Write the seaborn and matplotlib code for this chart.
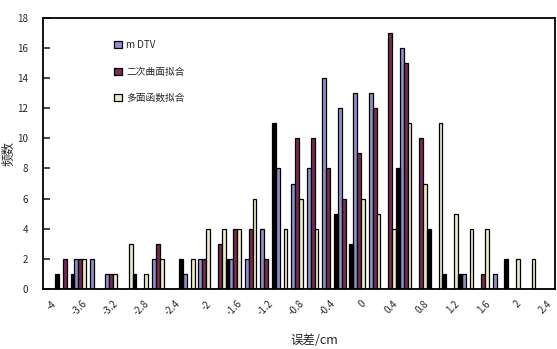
import numpy as np
import pandas as pd
import matplotlib
matplotlib.use("Agg")
import matplotlib.pyplot as plt
import seaborn as sns

# error classes (bin centres) and counts for each method
bins = [round(-4.0 + 0.2 * i, 1) for i in range(33)]
counts_dtv = [0, 0, 2, 2, 1, 0, 0, 2, 0, 1, 2, 0, 2, 2, 4, 8, 7, 8, 14, 12,
              13, 13, 0, 16, 0, 0, 0, 1, 0, 1, 0, 0, 0]
counts_fit = [0, 2, 2, 0, 1, 0, 0, 3, 0, 0, 2, 3, 4, 4, 2, 0, 10, 10, 8, 6,
              9, 12, 17, 15, 10, 0, 0, 0, 1, 0, 0, 0, 0]
counts_surf = [0, 0, 2, 0, 1, 3, 1, 2, 0, 2, 4, 4, 4, 6, 0, 4, 6, 4, 0, 0,
               6, 5, 4, 11, 7, 11, 5, 4, 4, 0, 2, 2, 0]
counts_meas = [1, 1, 0, 0, 0, 1, 0, 0, 2, 0, 0, 2, 0, 0, 11, 0, 0, 0, 5, 3,
               0, 0, 8, 0, 4, 1, 1, 0, 0, 2, 0, 0, 0]
series_names = ["m DTV", "二次曲面拟合", "多面函数拟合", "实测"]
series_colors = ["#8585d6", "#861d50", "#f3f0bd", "#000000"]
tick_labels = ["-4", "-3.6", "-3.2", "-2.8", "-2.4", "-2", "-1.6", "-1.2",
               "-0.8", "-0.4", "0", "0.4", "0.8", "1.2", "1.6", "2", "2.4"]

frames = []
for name, vals in zip(series_names,
                      [counts_dtv, counts_fit, counts_surf, counts_meas]):
    frames.append(pd.DataFrame({"bin": [f"{b:g}" for b in bins],
                                "count": vals, "series": name}))
df = pd.concat(frames, ignore_index=True)

sns.set_theme(style="white")
plt.rcParams["font.family"] = ["Noto Sans CJK SC", "DejaVu Sans"]

fig = plt.figure(figsize=(5.57, 3.49), dpi=100)
ax = fig.add_axes([0.078, 0.172, 0.918, 0.777])

sns.barplot(data=df, x="bin", y="count", hue="series",
            hue_order=series_names, palette=series_colors,
            width=1.0, edgecolor="black", linewidth=0.9,
            ax=ax, legend=True)

ax.set_ylim(0, 18)
ax.set_yticks(range(0, 19, 2))
ax.tick_params(axis="y", direction="in", length=5, width=1.2,
               labelsize=7, pad=11, left=True)
ax.set_xticks(range(0, 33, 2))
ax.set_xticklabels(tick_labels, rotation=45, ha="right",
                   rotation_mode="anchor", fontsize=7)
ax.tick_params(axis="x", length=0, pad=7)

for s in ax.spines.values():
    s.set_color("black")
    s.set_linewidth(1.3)

ax.set_xlabel("误差/cm", fontsize=9)
ax.xaxis.set_label_coords(0.53, -0.165)
ax.set_ylabel("频数", fontsize=9)
ax.yaxis.set_label_coords(-0.055, 0.5)

handles, labels = ax.get_legend_handles_labels()
leg = ax.legend(handles[:3], labels[:3], loc="upper left",
                bbox_to_anchor=(0.12, 0.95), frameon=False, fontsize=7,
                handlelength=0.9, handleheight=0.7, labelspacing=1.7,
                handletextpad=0.4)

fig.savefig("out.png", dpi=100)
